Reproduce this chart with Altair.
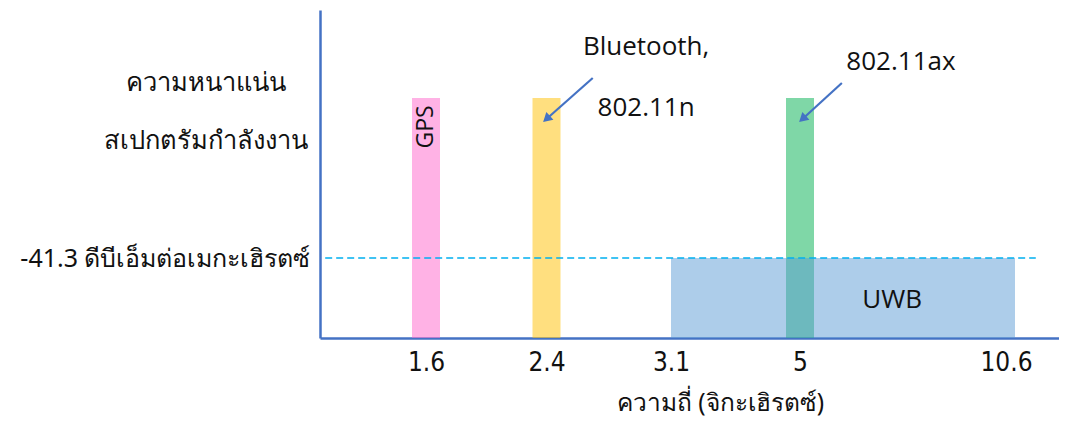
import altair as alt
import pandas as pd

# ---- data ----
FREQ_TICKS = [1.6, 2.4, 3.1, 5, 10.6]
NARROW_NAMES = ["GPS", "Bluetooth/802.11n", "802.11ax"]
NARROW_FREQ = [1.6, 2.4, 5.0]
NARROW_LEVEL = [-1.3, -1.3, -1.3]
NARROW_COLORS = ["#FF66CC", "#FFC000", "#00B050"]
UWB_START = [3.1]
UWB_END = [10.6]
UWB_LEVEL = [-41.3]
Y_MIN, Y_MAX = -61.3, 20.7
UNIT_Y = " ดีบีเอ็มต่อเมกะเฮิรตซ์"
TITLE_Y = ["ความหนาแน่น", "สเปกตรัมกำลังงาน"]
TITLE_X = "ความถี่ (จิกะเฮิรตซ์)"

# annotation texts (data coordinates)
ANN_TEXT = ["Bluetooth,", "802.11n", "802.11ax", "UWB"]
ANN_X = [2.96, 2.96, 7.63, 7.40]
ANN_Y = [11.45, -3.8, 7.7, -51.8]
# arrows: start -> arrow-head centre
ARR_X1 = [2.66, 6.09]
ARR_Y1 = [3.7, 2.45]
ARR_X2 = [2.40, 5.065]
ARR_Y2 = [-6.55, -6.55]

AXIS_COLOR = "#4472C4"
LABEL_FONT = "DejaVu Sans Condensed, Liberation Sans, sans-serif"
THAI_FONT = "Noto Sans, sans-serif"
ANN_FONT = "Open Sans"

W, H = 739, 328

narrow = pd.DataFrame({"name": NARROW_NAMES, "freq": NARROW_FREQ,
                       "level": NARROW_LEVEL, "color": NARROW_COLORS})
uwb = pd.DataFrame({"start": UWB_START, "end": UWB_END, "level": UWB_LEVEL})
ann = pd.DataFrame({"text": ANN_TEXT, "x": ANN_X, "y": ANN_Y})
arr = pd.DataFrame({"x1": ARR_X1, "y1": ARR_Y1, "x2": ARR_X2, "y2": ARR_Y2})

xscale = alt.Scale(domain=[0, 1.6, 2.4, 3.1, 5, 10.6, 12],
                   range=[0, 106, 226.5, 351, 480, 695, W], nice=False, zero=False)
yscale = alt.Scale(domain=[Y_MIN, Y_MAX], nice=False, zero=False)

xaxis = alt.Axis(values=FREQ_TICKS, labelExpr="toString(datum.value)", ticks=False,
                 grid=False, domainColor=AXIS_COLOR, domainWidth=2.5,
                 labelFont=LABEL_FONT, labelFontSize=26,
                 labelOffset={"condition": {"test": "datum.value == 10.6", "value": -9},
                              "value": 0},
                 labelColor="#111", labelPadding=11, labelFlush=False,
                 title=TITLE_X, titleFont=THAI_FONT, titleFontSize=24.5,
                 titleFontWeight="normal", titleColor="#111",
                 titleX=400, titleY=65, titleBaseline="middle", titleAnchor=None)
yaxis = alt.Axis(values=UWB_LEVEL, ticks=False, grid=False, domainColor=AXIS_COLOR,
                 domainWidth=2.5, labelFont=THAI_FONT, labelFontSize=25,
                 labelColor="#111", labelPadding=10, labelLimit=500,
                 labelExpr="toString(datum.value) + '" + UNIT_Y + "'",
                 title=TITLE_Y, titleFont=THAI_FONT, titleFontSize=25.5,
                 titleFontWeight="normal", titleColor="#111", titleAngle=0,
                 titleAlign="center", titleBaseline="middle", titleLineHeight=58,
                 titleX=-115, titleY=72)


def X(field):
    return alt.X(field, type="quantitative", scale=xscale, axis=xaxis)


def Y(field):
    return alt.Y(field, type="quantitative", scale=yscale, axis=yaxis)


bars = alt.Chart(narrow).mark_bar(size=28, opacity=0.5).encode(
    x=X("freq"),
    y=Y("level"),
    y2=alt.datum(Y_MIN),
    color=alt.Color("color:N", scale=None),
)

uwb_rect = alt.Chart(uwb).mark_rect(color="#5B9BD5", opacity=0.5).encode(
    x=X("start"),
    x2="end:Q",
    y=Y("level"),
    y2=alt.datum(Y_MIN),
)

dash = alt.Chart(uwb).mark_rule(color="#00B0F0", strokeDash=[7, 4], strokeWidth=1.6).encode(
    x=alt.datum(0, scale=xscale, axis=xaxis, type="quantitative"),
    x2=alt.datum(11.3),
    y=Y("level"),
)

gps_label = alt.Chart(narrow.iloc[:1]).mark_text(
    angle=270, font=ANN_FONT, fontSize=23, color="#111", baseline="middle", align="center"
).encode(
    x=X("freq"),
    y=alt.datum(-8.55, scale=yscale, axis=yaxis, type="quantitative"),
    text="name:N",
)

texts = alt.Chart(ann).mark_text(font=ANN_FONT, fontSize=26, color="#111",
                                 baseline="middle", align="center").encode(
    x=X("x"),
    y=Y("y"),
    text="text:N",
)

arrow_lines = alt.Chart(arr).mark_rule(color="#4472C4", strokeWidth=2.2).encode(
    x=X("x1"),
    y=Y("y1"),
    x2="x2:Q",
    y2="y2:Q",
)

arrow_heads = alt.Chart(arr).mark_point(shape="triangle-up", size=110, filled=True,
                                        color="#4472C4", opacity=1, angle=228).encode(
    x=X("x2"),
    y=Y("y2"),
)

chart = alt.layer(bars, uwb_rect, dash, gps_label, texts, arrow_lines, arrow_heads).properties(
    width=W, height=H, background="white",
    autosize=alt.AutoSizeParams(type="none"),
    padding={"left": 312, "top": 2, "right": 0, "bottom": 81},
).configure_view(stroke="transparent", strokeWidth=0)

chart.save("out.html", embed_options={"renderer": "svg", "actions": False})
